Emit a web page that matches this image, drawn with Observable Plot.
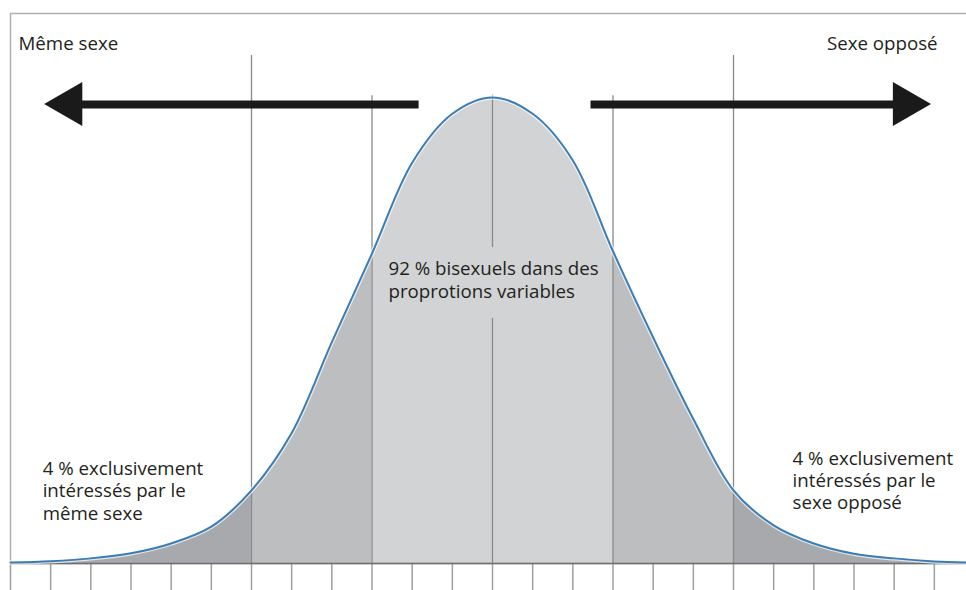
<!DOCTYPE html>
<html><head><meta charset="utf-8">
<script src="https://cdn.jsdelivr.net/npm/d3@7"></script>
<script src="https://cdn.jsdelivr.net/npm/@observablehq/plot@0.6"></script>
<style>html,body{margin:0;padding:0;background:#fff;} svg{display:block}</style>
</head><body><div id="chart"></div>
<script>
// Position on the scale (same sex … opposite sex), one tick per unit
const positions = [-12,-11,-10,-9,-8,-7,-6,-5,-4,-3,-2,-1,0,1,2,3,4,5,6,7,8,9,10,11,12];
// Relative height of the curve at each position (peak = 100)
const heights = [0.2,0.5,1.1,2.2,4.3,7.9,15.7,28,47.5,66.5,86,96.5,100,96.5,86.5,67,48.5,31,15.7,8.2,4.3,2.1,1.1,0.45,0.2];
// Boundaries of the shaded zones
const outerBounds = [-6, 6];
const innerBounds = [-3, 3];
// Zone names and extents
const zoneNames = ["tailLeft","midLeft","center","midRight","tailRight"];
const zoneFrom = [-12,-6,-3,3,6];
const zoneTo = [-6,-3,3,6,12];
// Texts
const titleLeft = "Même sexe";
const titleRight = "Sexe opposé";
const centerLabel = ["92 % bisexuels dans des", "proprotions variables"];
const leftLabel = ["4 % exclusivement", "intéressés par le", "même sexe"];
const rightLabel = ["4 % exclusivement", "intéressés par le", "sexe opposé"];

const zoneFill = {tailLeft:"#a7a9ac", midLeft:"#bcbec0", center:"#d1d3d4", midRight:"#bcbec0", tailRight:"#a7a9ac"};

const curve = positions.map((k, i) => ({k, h: heights[i]}));
const zones = zoneNames.map((name, i) => ({name, from: zoneFrom[i], to: zoneTo[i]}));

// arrows (in data units)
const arrowLevel = 98.5, arrowHalf = 4.72;
const shafts = [
  {z:"L", x:-1.84}, {z:"L", x:-10.4},
  {z:"R", x:2.44}, {z:"R", x:10.1}
];
const heads = [
  {z:"L", x:-10.2, y1:arrowLevel-arrowHalf, y2:arrowLevel+arrowHalf},
  {z:"L", x:-11.15, y1:arrowLevel, y2:arrowLevel},
  {z:"R", x:9.98, y1:arrowLevel-arrowHalf, y2:arrowLevel+arrowHalf},
  {z:"R", x:10.93, y1:arrowLevel, y2:arrowLevel}
];
const centerSegments = [{y1:0, y2:52.6}, {y1:67.8, y2:100.5}];

const font = "Open Sans";
const textColor = "#231f20";
const fs = 18.7;

const chart = Plot.plot({
  width: 966,
  height: 590,
  marginLeft: 10,
  marginRight: -8,
  marginTop: 13,
  marginBottom: 27,
  style: {fontFamily: font, background: "#fff"},
  x: {domain: [-12, 12], axis: null},
  y: {domain: [0, 100], range: [563, 97], axis: null},
  marks: [
    ...zones.map(z => Plot.areaY(curve, {
      filter: d => d.k >= z.from && d.k <= z.to,
      x: "k", y: "h", fill: zoneFill[z.name], curve: "catmull-rom"
    })),
    Plot.frame({stroke: "#b1b1b1", strokeWidth: 1.5}),
    Plot.ruleX(positions, {y1: 0, y2: -6, stroke: "#9f9f9f", strokeWidth: 1.5}),
    Plot.ruleX(outerBounds, {y1: 0, y2: 109, stroke: "#8a8a8a", strokeWidth: 1.3}),
    Plot.ruleX(innerBounds, {y1: 0, y2: 100.4, stroke: "#8a8a8a", strokeWidth: 1.3}),
    Plot.ruleX(centerSegments, {x: 0, y1: "y1", y2: "y2", stroke: "#8a8a8a", strokeWidth: 1.3}),
    Plot.ruleY([0], {x1: -12, x2: 12, stroke: "#6d6e71", strokeWidth: 1.5}),
    Plot.line(curve, {x: "k", y: "h", stroke: "#ffffff", strokeWidth: 4.5, strokeOpacity: 0.7, curve: "catmull-rom"}),
    Plot.line(curve, {x: "k", y: "h", stroke: "#3a7db5", strokeWidth: 2, curve: "catmull-rom"}),
    Plot.line(shafts, {x: "x", y: arrowLevel, z: "z", stroke: "#1a1a1a", strokeWidth: 8, strokeLinecap: "butt"}),
    Plot.areaY(heads, {x: "x", y1: "y1", y2: "y2", z: "z", fill: "#1a1a1a", curve: "linear"}),
    Plot.text([titleLeft], {x: -11.8, y: 110.1, text: d => d, textAnchor: "start", lineAnchor: "bottom", fontSize: fs, fill: textColor}),
    Plot.text([titleRight], {x: 11.08, y: 110.1, text: d => d, textAnchor: "end", lineAnchor: "bottom", fontSize: fs, fill: textColor}),
    Plot.text([centerLabel.join("\n")], {x: -2.59, y: 57.0, text: d => d, textAnchor: "start", lineAnchor: "bottom", lineHeight: 1.2, fontSize: fs, fill: textColor}),
    Plot.text([leftLabel.join("\n")], {x: -11.2, y: 9.4, text: d => d, textAnchor: "start", lineAnchor: "bottom", lineHeight: 1.2, fontSize: fs, fill: textColor}),
    Plot.text([rightLabel.join("\n")], {x: 7.47, y: 11.6, text: d => d, textAnchor: "start", lineAnchor: "bottom", lineHeight: 1.2, fontSize: fs, fill: textColor})
  ]
});
document.getElementById("chart").appendChild(chart);
</script>
</body></html>
